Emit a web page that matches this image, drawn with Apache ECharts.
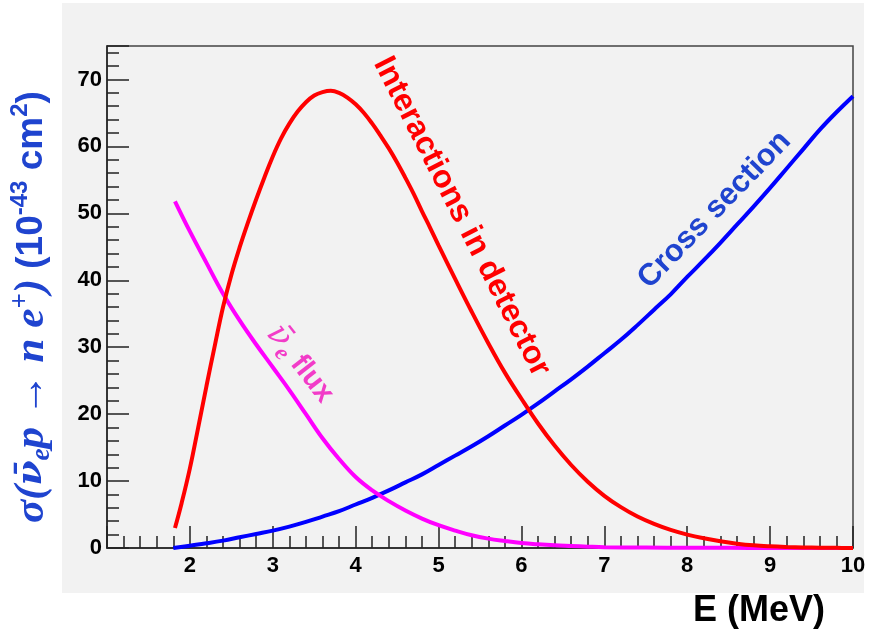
<!DOCTYPE html>
<html><head><meta charset="utf-8">
<script src="https://cdn.jsdelivr.net/npm/echarts@6/dist/echarts.min.js"></script>
<style>html,body{margin:0;padding:0;background:#fff}#c{width:869px;height:633px}</style>
</head><body><div id="c"></div>
<script>
// ---- data ----
const interactionE = [1.82,1.9,2.0,2.1,2.2,2.3,2.4,2.5,2.6,2.7,2.8,2.9,3.0,3.1,3.2,3.3,3.4,3.5,3.6,3.7,3.8,3.9,4.0,4.1,4.2,4.3,4.4,4.5,4.6,4.7,4.8,4.9,5.0,5.2,5.4,5.6,5.8,6.0,6.2,6.4,6.6,6.8,7.0,7.2,7.4,7.6,7.8,8.0,8.2,8.4,8.6,8.8,9.0,9.2,9.4,9.6,9.8,10.0];
const interactions = [3,6.7,11.9,18,24.2,30.2,36.0,40.8,44.9,48.6,52.1,55.4,58.5,61.2,63.4,65.2,66.6,67.6,68.1,68.3,68.0,67.3,66.3,65,63.4,61.6,59.7,57.6,55.3,52.9,50.3,47.8,45.2,40.2,35.3,30.6,26.2,22.3,18.6,15.3,12.4,9.9,7.8,6.1,4.7,3.6,2.7,2.0,1.45,1.0,0.65,0.4,0.25,0.15,0.08,0.04,0.02,0];
const fluxE = [1.82,2.0,2.2,2.4,2.6,2.8,3.0,3.2,3.4,3.6,3.8,4.0,4.2,4.4,4.6,4.8,5.0,5.2,5.4,5.6,5.8,6.0,6.2,6.4,6.6,6.8,7.0,7.5,8.0,8.5,9.0,9.5,10.0];
const flux = [51.8,47.3,42.6,38.0,34.0,30.4,27.0,23.6,20.0,16.4,13.3,10.6,8.6,7.0,5.6,4.4,3.4,2.6,1.9,1.4,1.05,0.75,0.55,0.4,0.3,0.2,0.12,0.06,0.03,0.02,0.01,0.005,0];
const crossE = [1.8,2.0,2.2,2.4,2.6,2.8,3.0,3.2,3.4,3.6,3.8,4.0,4.2,4.4,4.6,4.8,5.0,5.2,5.4,5.6,5.8,6.0,6.2,6.4,6.6,6.8,7.0,7.2,7.4,7.6,7.8,8.0,8.2,8.4,8.6,8.8,9.0,9.2,9.4,9.6,9.8,10.0];
const crossSection = [0,0.35,0.7,1.1,1.6,2.1,2.6,3.2,3.9,4.7,5.5,6.5,7.5,8.6,9.8,11.0,12.4,13.8,15.2,16.7,18.3,19.9,21.6,23.4,25.2,27.1,29.1,31.1,33.3,35.6,37.9,40.5,43.0,45.6,48.3,51.0,53.8,56.7,59.6,62.5,65.1,67.5];
const xTicks = [2,3,4,5,6,7,8,9,10];
const yTicks = [0,10,20,30,40,50,60,70];

const pairs = (xs, ys) => xs.map((x, i) => [x, ys[i]]);
const chart = echarts.init(document.getElementById('c'), null, {renderer: 'canvas'});
const labelFont = {fontFamily: 'Liberation Sans, Arial, sans-serif', fontWeight: 'bold', fontSize: 22, color: '#000'};
const lineStyle = c => ({color: c, width: 4});
const lineSeries = (name, data, color, z) => ({type: 'line', name, data, showSymbol: false, smooth: 0.4, lineStyle: lineStyle(color), z});

chart.setOption({
  animation: false,
  backgroundColor: '#fff',
  grid: {left: 107, right: 16, top: 46, bottom: 85, show: true, borderColor: '#444', borderWidth: 1.5, backgroundColor: 'transparent'},
  xAxis: {
    type: 'value', min: 1, max: 10, interval: 1,
    axisLine: {show: true, lineStyle: {color: '#222', width: 1.5}},
    axisTick: {show: true, inside: true, length: 22, lineStyle: {color: '#222', width: 1.5}},
    minorTick: {show: true, splitNumber: 5, length: 12, lineStyle: {color: '#222', width: 1.5}},
    splitLine: {show: false},
    axisLabel: Object.assign({margin: 7, formatter: v => xTicks.includes(v) ? String(v) : ''}, labelFont)
  },
  yAxis: [{
    type: 'value', min: 0, max: 75, interval: 10,
    axisLine: {show: true, lineStyle: {color: '#222', width: 1.5}},
    axisTick: {show: true, inside: true, length: 22, lineStyle: {color: '#222', width: 1.5}},
    splitLine: {show: false},
    axisLabel: Object.assign({margin: 5, formatter: v => yTicks.includes(v) ? String(v) : ''}, labelFont)
  }, {
    type: 'value', min: 0, max: 75, interval: 2, position: 'left', offset: 0,
    axisLine: {show: false},
    axisTick: {show: true, inside: true, length: 12, lineStyle: {color: '#222', width: 1.5}},
    splitLine: {show: false},
    axisLabel: {show: false}
  }],
  series: [
    lineSeries('Cross section', pairs(crossE, crossSection), '#0000ff', 3),
    lineSeries('flux', pairs(fluxE, flux), '#ff00ff', 4),
    lineSeries('Interactions in detector', pairs(interactionE, interactions), '#ff0000', 5)
  ]
});

const px = (e, v) => chart.convertToPixel({xAxisIndex: 0, yAxisIndex: 0}, [e, v]);
const deg = d => d * Math.PI / 180;
const pInter = px(5.28, 49.5), pCross = px(8.33, 50.5), pFlux = px(3.33, 27.5);
const sans = 'Liberation Sans, Arial, sans-serif';
const serif = 'Liberation Serif, Times New Roman, serif';
const dserif = 'DejaVu Serif, serif';
const titleBlue = '#1f44cf';
const pink = '#f23cc8';

chart.setOption({
  graphic: [
    {type: 'rect', z: -10, silent: true, shape: {x: 62, y: 3, width: 802, height: 590}, style: {fill: '#f2f2f2'}},
    {type: 'text', z: 10, x: pInter[0], y: pInter[1], rotation: deg(-63),
     style: {text: 'Interactions in detector', fill: '#ff0000', font: 'bold 32px ' + sans, align: 'center', verticalAlign: 'middle'}},
    {type: 'text', z: 10, x: pCross[0], y: pCross[1], rotation: deg(46),
     style: {text: 'Cross section', fill: titleBlue, font: 'bold 31px ' + sans, align: 'center', verticalAlign: 'middle'}},
    {type: 'text', z: 10, x: pFlux[0], y: pFlux[1], rotation: deg(-52),
     style: {text: '{nu|ν̄}{sub|e}{s| flux}', align: 'center', verticalAlign: 'middle',
       rich: {
         nu: {fill: pink, font: 'italic 33px ' + dserif, lineHeight: 40},
         sub: {fill: pink, font: 'italic bold 23px ' + serif, lineHeight: 40, verticalAlign: 'bottom'},
         s: {fill: pink, font: 'bold 29px ' + sans, lineHeight: 40}
       }}},
    {type: 'text', z: 10, x: 32, y: 307, rotation: deg(90),
     style: {text: '{m|σ(}{nu|ν̄}{sub|e}{m|p → n e}{sup|+}{m|)}{s| (10}{sup2|-43}{s| cm}{sup2|2}{s|)}', align: 'center', verticalAlign: 'middle',
       rich: {
         m: {fill: titleBlue, font: 'italic bold 43px ' + serif, lineHeight: 48},
         nu: {fill: titleBlue, font: 'italic bold 36px ' + dserif, lineHeight: 48},
         sub: {fill: titleBlue, font: 'italic bold 27px ' + serif, lineHeight: 48, verticalAlign: 'bottom'},
         sup: {fill: titleBlue, font: 'italic bold 27px ' + serif, lineHeight: 48, verticalAlign: 'top'},
         s: {fill: titleBlue, font: 'bold 37px ' + sans, lineHeight: 48},
         sup2: {fill: titleBlue, font: 'bold 24px ' + sans, lineHeight: 48, verticalAlign: 'top'}
       }}},
    {type: 'text', z: 10, x: 759, y: 611,
     style: {text: 'E (MeV)', fill: '#000', font: 'bold 36px ' + sans, align: 'center', verticalAlign: 'middle'}}
  ]
});
</script>
</body></html>
